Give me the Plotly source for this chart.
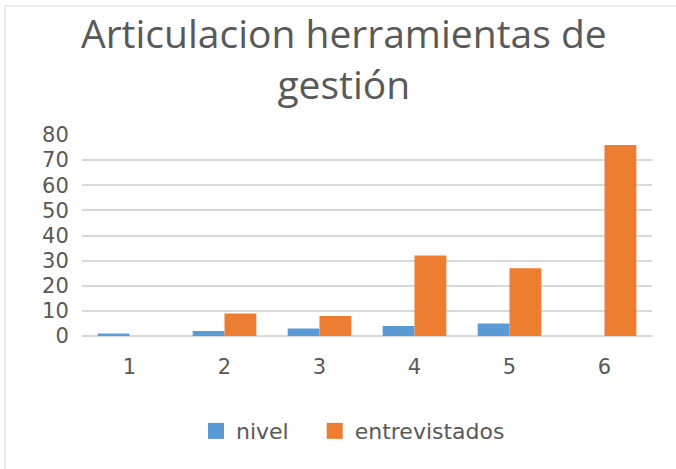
import plotly.graph_objects as go

categories = ["1", "2", "3", "4", "5", "6"]
nivel = [1, 2, 3, 4, 5, None]
entrevistados = [None, 9, 8, 32, 27, 76]
y_ticks = [0, 10, 20, 30, 40, 50, 60, 70, 80]
title_text = "Articulacion herramientas de<br>gestión"
series_names = ["nivel", "entrevistados"]
series_colors = ["#5B9BD5", "#ED7D31"]

txt = "#595959"
title_family = "Open Sans, Noto Sans, sans-serif"
body_family = "DejaVu Sans, sans-serif"

fig = go.Figure()
for name, vals, col in zip(series_names, [nivel, entrevistados], series_colors):
    fig.add_trace(go.Bar(name=name, x=categories, y=vals, marker_color=col,
                         marker_line_width=0, showlegend=False, legendgroup=name))
# legend entries with larger square swatches (padding after first label for spacing)
pads = ["\u00a0" * 3, ""]
for name, col, pad in zip(series_names, series_colors, pads):
    fig.add_trace(go.Scatter(name=name + pad, x=[None], y=[None], mode="markers",
                             marker=dict(symbol="square", size=22, color=col),
                             legendgroup=name, showlegend=True, hoverinfo="skip"))

fig.update_layout(
    width=676, height=469,
    paper_bgcolor="white", plot_bgcolor="white",
    margin=dict(l=82, r=24, t=135, b=133),
    barmode="group", bargap=0.33, bargroupgap=0,
    font=dict(family=body_family, color=txt),
    showlegend=True,
    legend=dict(orientation="h", x=0.2, xanchor="left", y=-0.473, yanchor="middle",
                font=dict(size=22, color=txt, family=body_family), itemwidth=30,
                itemsizing="trace", traceorder="normal"),
    xaxis=dict(type="category", showgrid=False, showline=False, ticks="outside", ticklen=12,
               tickcolor="rgba(0,0,0,0)", tickfont=dict(size=21, color=txt)),
    yaxis=dict(range=[0, 80], tickvals=y_ticks, showgrid=True, gridcolor="#D9D9D9", gridwidth=1.5,
               zeroline=True, zerolinecolor="#D9D9D9", zerolinewidth=1.5, showline=False,
               ticks="outside", ticklen=8, tickcolor="rgba(0,0,0,0)",
               tickfont=dict(size=21, color=txt)),
    annotations=[dict(text=title_text, xref="paper", yref="paper", x=0.4596, y=1.385,
                      xanchor="center", yanchor="middle", showarrow=False,
                      font=dict(size=39, color=txt, family=title_family))],
    shapes=[dict(type="rect", xref="paper", yref="paper", x0=-0.135, x1=1.3, y0=-0.9, y1=1.642,
                 line=dict(color="#D9D9D9", width=1), fillcolor="rgba(0,0,0,0)", layer="below")],
)

fig.write_html("out.html", config={"displayModeBar": False},
               post_script="document.body.style.margin='0';")
